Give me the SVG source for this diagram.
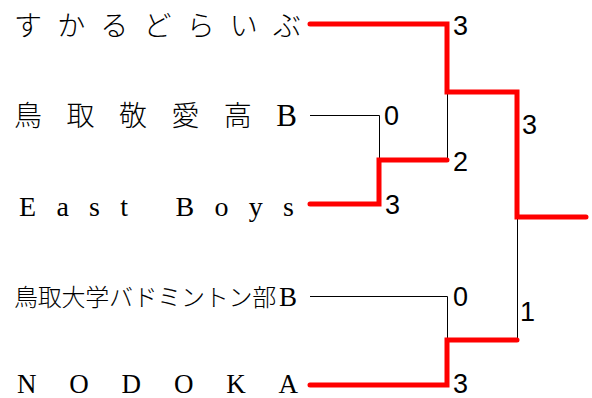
<svg xmlns="http://www.w3.org/2000/svg" width="592" height="398" viewBox="0 0 592 398">
<style>
.team{font-family:"Liberation Serif","Noto Sans CJK JP",serif;font-weight:300;fill:#000}
.big{font-size:31px}
.mid{font-size:27px}
.score{font-family:"Liberation Sans",Arial,sans-serif;font-size:27px;fill:#000}
.win{fill:none;stroke:#ff0000;stroke-width:5;stroke-linecap:round;stroke-linejoin:miter}
.lose{fill:none;stroke:#000;stroke-width:1}
</style>
<rect width="592" height="398" fill="#fff"/>
<g id="connectors">
<path class="lose" d="M310,115.5 H379.5 V160"/>
<path class="lose" d="M447.5,92 V160"/>
<path class="lose" d="M310,296.5 H447.5 V340"/>
<path class="lose" d="M517.5,217 V340"/>
<path class="win" d="M310,24 H447 V92 H517 V217 H586"/>
<path class="win" d="M310,204 H379 V160 H447"/>
<path class="win" d="M310,385 H447 V340 H517"/>
</g>
<g id="team1"><text class="team" x="14" y="35.5" font-size="28" textLength="287" lengthAdjust="spacing">すかるどらいぶ</text></g>
<g id="team2"><text class="team" x="14" y="125.5" font-size="28" textLength="283" lengthAdjust="spacing">鳥取敬愛高<tspan class="big">B</tspan></text></g>
<g id="team3"><text class="team" x="19" y="216" font-size="28" textLength="275" lengthAdjust="spacing">East Boys</text></g>
<g id="team4"><text class="team" x="14" y="306" font-size="24" textLength="283" lengthAdjust="spacing">鳥取大学バドミントン部<tspan class="mid" dx="3">B</tspan></text></g>
<g id="team5"><text class="team" x="17" y="393" font-size="27" textLength="281" lengthAdjust="spacing">NODOKA</text></g>
<g id="scores">
<text class="score" x="453" y="35">3</text>
<text class="score" x="384" y="125">0</text>
<text class="score" x="453" y="171">2</text>
<text class="score" x="385" y="214">3</text>
<text class="score" x="522" y="134">3</text>
<text class="score" x="453" y="306">0</text>
<text class="score" x="520" y="321">1</text>
<text class="score" x="453" y="393">3</text>
</g>
</svg>
